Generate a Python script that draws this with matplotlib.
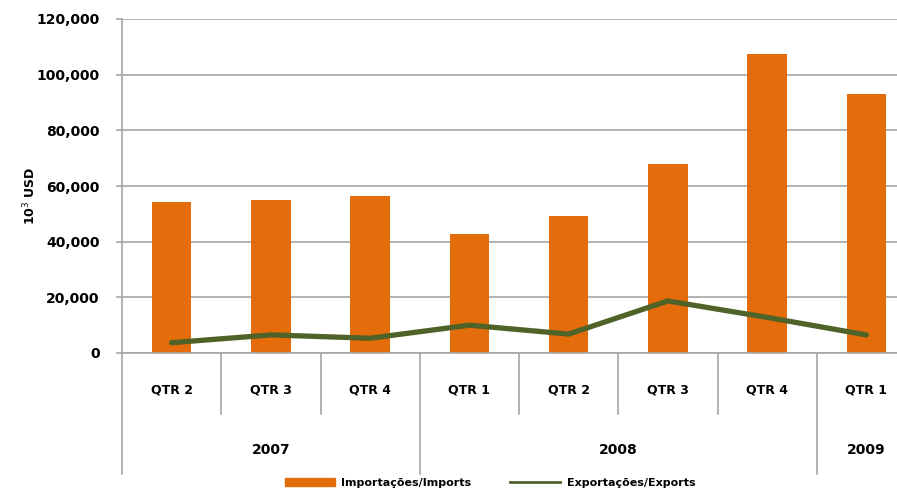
import matplotlib
matplotlib.use('Agg')
import matplotlib.pyplot as plt
from matplotlib.ticker import FuncFormatter
from matplotlib.patches import Patch
from matplotlib.lines import Line2D

# Data (10^3 USD) per quarter
quarters = ['QTR 2', 'QTR 3', 'QTR 4', 'QTR 1', 'QTR 2', 'QTR 3', 'QTR 4', 'QTR 1']
years = ['2007', '2008', '2009']
year_counts = [3, 4, 1]
imports = [54200, 55000, 56400, 42700, 49200, 67800, 107300, 93000]
exports = [3700, 6500, 5300, 10000, 6800, 18700, 12800, 6500]

orange = '#E46C0A'
green = '#4F6228'
grey = '#A6A6A6'

fig = plt.figure(figsize=(8.97, 4.91), dpi=100)
# plot area runs past the right edge, as in the reference
ax = fig.add_axes([122 / 897, 1 - 353 / 491, 794 / 897, 334 / 491])

x = list(range(len(quarters)))
ax.bar(x, imports, width=0.4, color=orange, zorder=2)
ax.plot(x, exports, color=green, linewidth=3.8, zorder=3, solid_capstyle='round')

ax.set_xlim(-0.5, len(quarters) - 0.5)
ax.set_ylim(0, 120000)
ax.set_yticks(range(0, 120001, 20000))
ax.yaxis.set_major_formatter(FuncFormatter(lambda v, p: f'{int(v):,}'))
ax.grid(axis='y', color=grey, linewidth=1.2, zorder=0)
ax.set_axisbelow(True)

for s in ['top', 'right', 'left']:
    ax.spines[s].set_visible(False)
ax.spines['bottom'].set_color(grey)
ax.spines['bottom'].set_linewidth(1.2)
ax.set_xticks([])
ax.tick_params(axis='y', length=4, color=grey, width=1.2, pad=12)
for lbl in ax.get_yticklabels():
    lbl.set_fontweight('bold')
    lbl.set_fontsize(10)

# multi-level category axis
tr = ax.get_xaxis_transform()
short_y, long_y = -0.183, -0.362
ax.plot([-0.5, -0.5], [1, long_y], transform=tr, color=grey, lw=1.2, clip_on=False)
edges = []
pos = 0
for c in year_counts:
    pos += c
    edges.append(pos - 0.5)
for k in range(1, len(quarters)):
    b = k - 0.5
    bottom = long_y if b in edges else short_y
    ax.plot([b, b], [0, bottom], transform=tr, color=grey, lw=1.2, clip_on=False)

for i, q in enumerate(quarters):
    ax.text(i, -0.111, q, transform=tr, ha='center', va='center',
            fontsize=9, fontweight='bold')

start = 0
for yr, c in zip(years, year_counts):
    ax.text(start + (c - 1) / 2, -0.29, yr, transform=tr, ha='center', va='center',
            fontsize=10, fontweight='bold')
    start += c

fig.text(30 / 897, 1 - 196 / 491, '10$^3$ USD', rotation=90, ha='center', va='center',
         fontsize=9, fontweight='bold')

handles = [Patch(color=orange, label='Importações/Imports'),
           Line2D([0], [0], color=green, lw=2, label='Exportações/Exports')]
fig.legend(handles=handles, loc='center', bbox_to_anchor=(490 / 897, 1 - 483 / 491),
           ncol=2, frameon=False, prop={'weight': 'bold', 'size': 8},
           handlelength=4.5, handleheight=0.8, columnspacing=3.5, handletextpad=0.6)

fig.savefig('out.png', dpi=100)
